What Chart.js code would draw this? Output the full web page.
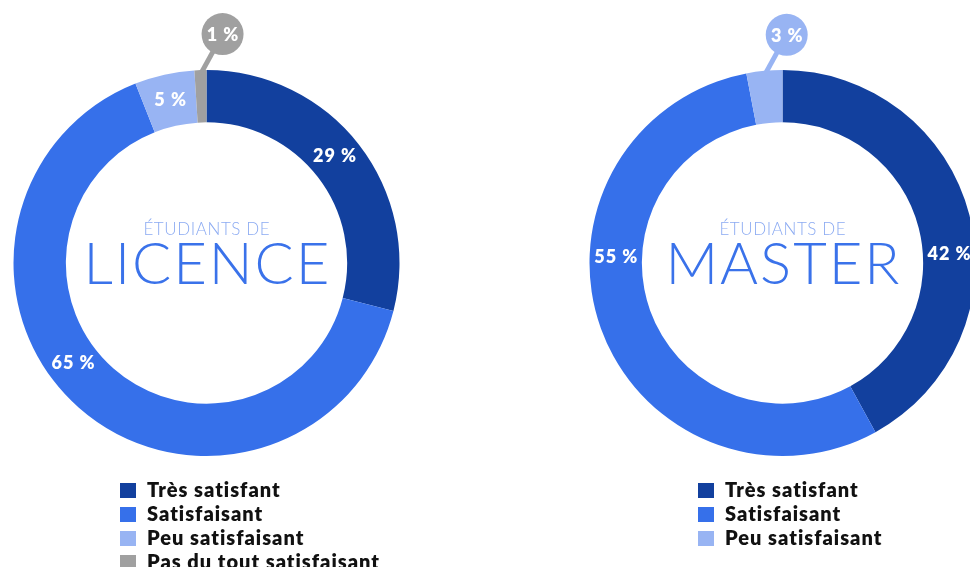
<!DOCTYPE html>
<html lang="fr">
<head>
<meta charset="utf-8">
<title>Satisfaction des étudiants</title>
<script src="https://cdn.jsdelivr.net/npm/chart.js@4/dist/chart.umd.min.js"></script>
<style>
    html, body { margin: 0; padding: 0; background: #fff; }
    body { width: 970px; height: 567px; overflow: hidden; position: relative; font-family: Lato, sans-serif; }
    canvas { position: absolute; top: 0; }
    #licenceChart { left: 0; }
    #masterChart { left: 576px; }
    .legend { position: absolute; top: 477px; margin: 0; padding: 0; list-style: none; }
    .legend li { height: 24px; line-height: 24px; white-space: nowrap; font-weight: 800; font-size: 20px; letter-spacing: 1px; color: #111; }
    .legend span { display: inline-block; width: 16px; height: 15px; margin-right: 11px; vertical-align: -1px; }
    #licenceLegend { left: 120px; }
    #masterLegend { left: 698px; }
</style>
</head>
<body>
<canvas id="licenceChart" width="413" height="526"></canvas>
<canvas id="masterChart" width="413" height="526"></canvas>
<ul class="legend" id="licenceLegend"></ul>
<ul class="legend" id="masterLegend"></ul>
<script>
// données (en %)
const licenceLabels = ['Très satisfant', 'Satisfaisant', 'Peu satisfaisant', 'Pas du tout satisfaisant'];
const licenceValues = [29, 65, 5, 1];
const masterLabels = ['Très satisfant', 'Satisfaisant', 'Peu satisfaisant'];
const masterValues = [42, 55, 3];
const sliceColors = ['#12409e', '#3670ea', '#98b4f3', '#a0a0a0'];

// texte centré avec espacement des lettres (on retire l'espace final)
function spacedText(ctx, text, x, y, spacing) {
    ctx.letterSpacing = spacing + 'px';
    ctx.fillText(text, x + spacing / 2, y);
    ctx.letterSpacing = '0px';
}

// étiquettes blanches sur l'anneau, bulles pour les petites parts, titre au centre
const ringText = {
    id: 'ringText',
    afterDatasetsDraw(chart, args, opts) {
        const ctx = chart.ctx;
        const ds = chart.data.datasets[0];
        const meta = chart.getDatasetMeta(0);
        let cx = 0, cy = 0;

        meta.data.forEach((arc, i) => {
            const p = arc.getProps(['x', 'y', 'startAngle', 'endAngle', 'innerRadius', 'outerRadius'], true);
            cx = p.x; cy = p.y;
            const text = ds.data[i] + ' %';
            ctx.save();
            ctx.font = '800 18px Lato';
            ctx.textAlign = 'center';
            ctx.textBaseline = 'middle';

            if (ds.data[i] < opts.calloutBelow) {
                const mid = (p.startAngle + p.endAngle) / 2;
                const ex = p.x + Math.cos(mid) * (p.outerRadius - 4);
                const ey = p.y + Math.sin(mid) * (p.outerRadius - 4);
                const bx = ex + opts.calloutDx;
                const by = ey + opts.calloutDy;
                ctx.strokeStyle = ds.backgroundColor[i];
                ctx.fillStyle = ds.backgroundColor[i];
                ctx.lineWidth = 5;
                ctx.beginPath();
                ctx.moveTo(ex, ey);
                ctx.lineTo(bx, by);
                ctx.stroke();
                ctx.beginPath();
                ctx.arc(bx, by, 21, 0, Math.PI * 2);
                ctx.fill();
                ctx.fillStyle = '#fff';
                spacedText(ctx, text, bx, by + 1, 1);
            } else {
                const f = opts.labelPos[i] ?? 0.5;
                const a = p.startAngle + (p.endAngle - p.startAngle) * f;
                const r = (p.innerRadius + p.outerRadius) / 2;
                ctx.fillStyle = '#fff';
                spacedText(ctx, text, p.x + Math.cos(a) * r, p.y + Math.sin(a) * r, 1);
            }
            ctx.restore();
        });

        ctx.save();
        ctx.textAlign = 'center';
        ctx.textBaseline = 'alphabetic';
        ctx.fillStyle = '#8cabf2';
        ctx.font = '300 17px Lato';
        spacedText(ctx, opts.subtitle, cx, cy - 28, 0.6);
        ctx.fillStyle = '#3a72ea';
        ctx.font = '300 58px Lato';
        spacedText(ctx, opts.title, cx, cy + 21, 2);
        ctx.restore();
    }
};

function buildLegend(id, labels) {
    const ul = document.getElementById(id);
    ul.innerHTML = labels.map((label, i) => `
        <li><span style="background:${sliceColors[i]}"></span>${label}</li>
    `).join('');
}

function drawRing(canvasId, labels, values, title, labelPos) {
    return new Chart(document.getElementById(canvasId), {
        type: 'doughnut',
        data: {
            labels: labels,
            datasets: [{
                data: values,
                backgroundColor: sliceColors.slice(0, values.length),
                borderWidth: 0
            }]
        },
        options: {
            responsive: false,
            animation: false,
            cutout: 141,
            radius: 193,
            layout: { padding: 13 },
            plugins: {
                legend: { display: false },
                tooltip: { enabled: false },
                ringText: {
                    title: title,
                    subtitle: 'ÉTUDIANTS DE',
                    labelPos: labelPos,
                    calloutBelow: 4,
                    calloutDx: 22,
                    calloutDy: -40
                }
            }
        },
        plugins: [ringText]
    });
}

document.addEventListener('DOMContentLoaded', () => {
    drawRing('licenceChart', licenceLabels, licenceValues, 'LICENCE', [0.48, 0.55, 0.5, 0.5]);
    drawRing('masterChart', masterLabels, masterValues, 'MASTER', [0.575, 0.61, 0.5]);
    buildLegend('licenceLegend', licenceLabels);
    buildLegend('masterLegend', masterLabels);
});
</script>
</body>
</html>
